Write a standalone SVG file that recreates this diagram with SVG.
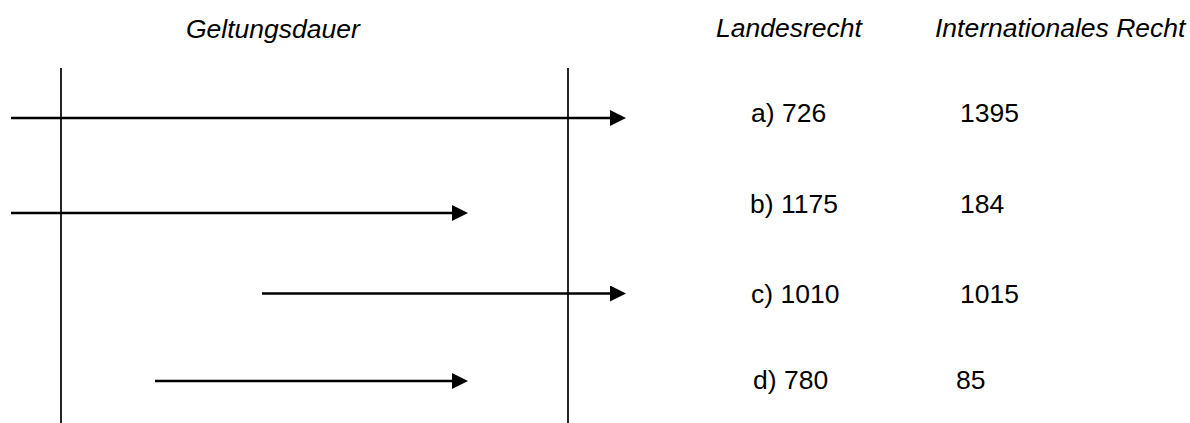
<svg xmlns="http://www.w3.org/2000/svg" width="1190" height="423" viewBox="0 0 1190 423">
<style>
.t{font-family:"Liberation Sans",Arial,sans-serif;font-size:26.5px;fill:#000}
.i{font-style:italic}
.ax{stroke:#000;stroke-width:1.7;fill:none}
.ar{stroke:#000;stroke-width:2.5;fill:none}
</style>
<defs>
<marker id="ah" markerUnits="userSpaceOnUse" markerWidth="16" markerHeight="17" refX="0" refY="8" orient="auto" viewBox="0 0 16 17">
<path d="M0,0 L16,8 L0,16 Z" fill="#000"/>
</marker>
</defs>
<rect width="1190" height="423" fill="#fff"/>
<g id="headers">
<text class="t i" x="186" y="38">Geltungsdauer</text>
<text class="t i" x="716" y="37">Landesrecht</text>
<text class="t i" x="935" y="37">Internationales Recht</text>
</g>
<g id="axes">
<line class="ax" x1="61" y1="68" x2="61" y2="423"/>
<line class="ax" x1="568" y1="68" x2="568" y2="423"/>
</g>
<g id="connectors">
<line class="ar" x1="11" y1="118" x2="610" y2="118" marker-end="url(#ah)"/>
<line class="ar" x1="11" y1="213" x2="452" y2="213" marker-end="url(#ah)"/>
<line class="ar" x1="262" y1="293.5" x2="610" y2="293.5" marker-end="url(#ah)"/>
<line class="ar" x1="155" y1="381" x2="452" y2="381" marker-end="url(#ah)"/>
</g>
<g id="row-a"><text class="t" x="751" y="122">a) 726</text><text class="t" x="960" y="122">1395</text></g>
<g id="row-b"><text class="t" x="750" y="213">b) 1175</text><text class="t" x="960" y="213">184</text></g>
<g id="row-c"><text class="t" x="751" y="302.5">c) 1010</text><text class="t" x="960" y="302.5">1015</text></g>
<g id="row-d"><text class="t" x="753" y="389">d) 780</text><text class="t" x="956" y="389">85</text></g>
</svg>
